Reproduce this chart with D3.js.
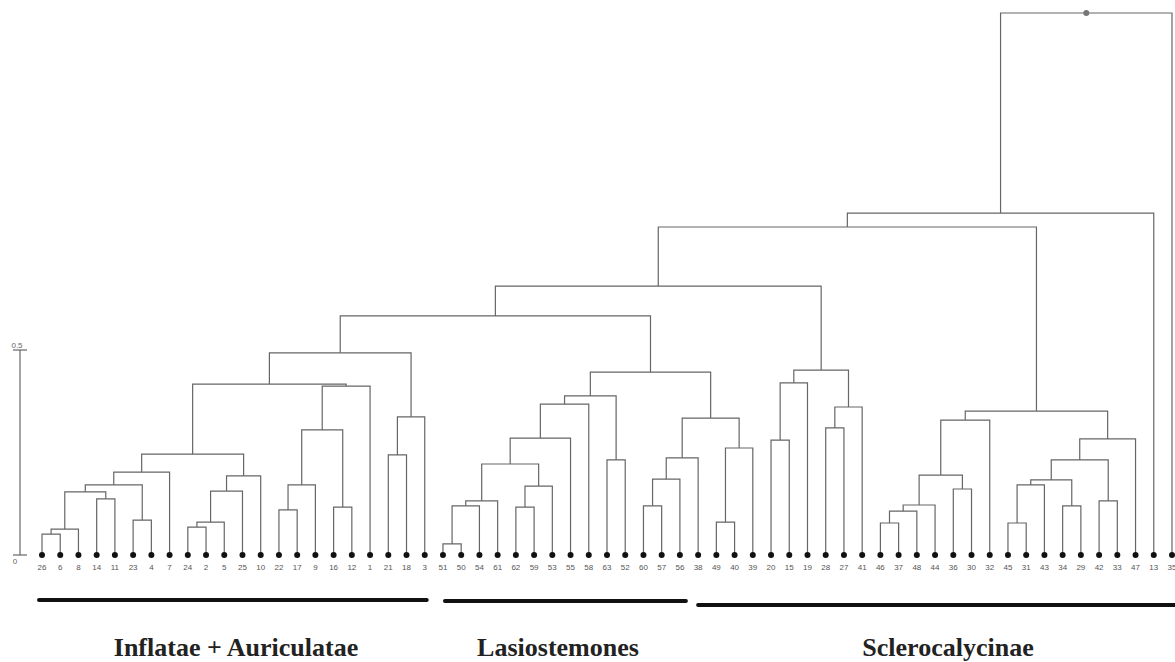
<!DOCTYPE html>
<html>
<head>
<meta charset="utf-8">
<script src="https://cdn.jsdelivr.net/npm/d3@7"></script>
<style>
  body { margin: 0; background: #fff; }
  svg { display: block; }
</style>
</head>
<body>
<div id="chart"></div>
<script>
// leaf order, left to right
const leaves = ["26","6","8","14","11","23","4","7","24","2","5","25","10","22","17","9","16","12","1","21","18","3",
  "51","50","54","61","62","59","53","55","58","63","52","60","57","56","38","49","40","39",
  "20","15","19","28","27","41","46","37","48","44","36","30","32","45","31","43","34","29","42","33","47","13","35"];

// merges: [left, right, height]; "#k" points to merge k
const merges = [
  ["26","6",0.051], ["#0","8",0.063], ["14","11",0.137], ["#1","#2",0.154], ["23","4",0.085],
  ["#3","#4",0.171], ["#5","7",0.202], ["24","2",0.068], ["#7","5",0.080], ["#8","25",0.156],
  ["#9","10",0.193], ["#6","#10",0.246], ["22","17",0.110], ["#12","9",0.171], ["16","12",0.117],
  ["#13","#14",0.305], ["#15","1",0.412], ["#11","#16",0.417], ["21","18",0.244], ["#18","3",0.337],
  ["#17","#19",0.493],
  ["51","50",0.027], ["#21","54",0.120], ["#22","61",0.132], ["62","59",0.117], ["#24","53",0.168],
  ["#23","#25",0.222], ["#26","55",0.285], ["#27","58",0.368], ["63","52",0.232], ["#28","#29",0.388],
  ["60","57",0.120], ["#31","56",0.185], ["#32","38",0.237], ["49","40",0.080], ["#34","39",0.261],
  ["#33","#35",0.334], ["#30","#36",0.446],
  ["#20","#37",0.583],
  ["20","15",0.280], ["#39","19",0.420], ["28","27",0.310], ["#41","41",0.361], ["#40","#42",0.451],
  ["#38","#43",0.656],
  ["46","37",0.078], ["#45","48",0.107], ["#46","44",0.122], ["36","30",0.161], ["#47","#48",0.195],
  ["#49","32",0.329], ["45","31",0.078], ["#51","43",0.171], ["34","29",0.120], ["#52","#53",0.183],
  ["42","33",0.132], ["#54","#55",0.232], ["#56","47",0.283], ["#50","#57",0.351],
  ["#44","#58",0.800], ["#59","13",0.834], ["#60","35",1.322]
];

// scale bar ticks
const scaleTicks = [0, 0.5];

// groups under the tree
const groupNames = ["Inflatae + Auriculatae", "Lasiostemones", "Sclerocalycinae"];
const groupFirst = ["26", "51", "38"];
const groupLast = ["3", "56", "35"];

const width = 1175, height = 662;

const svg = d3.select("#chart").append("svg")
  .attr("width", width)
  .attr("height", height);

const xScale = d3.scalePoint()
  .domain(leaves)
  .range([42, 1172]);

const yScale = d3.scaleLinear()
  .domain([0, 0.5])
  .range([555, 350]);

// build nested tree from merges
const built = merges.map(() => null);
function node(ref) {
  if (ref.startsWith("#")) return built[+ref.slice(1)];
  return { name: ref, height: 0 };
}
merges.forEach((m, i) => {
  built[i] = { name: "m" + i, height: m[2], children: [node(m[0]), node(m[1])] };
});
const root = d3.hierarchy(built[built.length - 1]);

// positions: leaves from the point scale, internal nodes in the middle of children
root.eachAfter(d => {
  if (!d.children) d.x = xScale(d.data.name);
  else d.x = (d.children[0].x + d.children[1].x) / 2;
  d.y = yScale(d.data.height);
});

// elbow branches
svg.append("g")
  .selectAll("path")
  .data(root.descendants().filter(d => d.children))
  .enter().append("path")
  .attr("fill", "none")
  .attr("stroke", "#666")
  .attr("stroke-width", 1.2)
  .attr("d", d => {
    const [a, b] = d.children;
    return `M${a.x},${a.y}V${d.y}H${b.x}V${b.y}`;
  });

// leaf dots
svg.append("g")
  .selectAll("circle")
  .data(root.leaves())
  .enter().append("circle")
  .attr("cx", d => d.x)
  .attr("cy", d => d.y)
  .attr("r", 3)
  .attr("fill", "#111");

// root dot
svg.append("circle")
  .attr("cx", root.x)
  .attr("cy", root.y)
  .attr("r", 3)
  .attr("fill", "#777");

// leaf labels
svg.append("g")
  .selectAll("text")
  .data(root.leaves())
  .enter().append("text")
  .attr("x", d => d.x)
  .attr("y", yScale(0) + 15)
  .attr("text-anchor", "middle")
  .attr("font-family", "Liberation Sans, Arial, sans-serif")
  .attr("font-size", 8)
  .attr("fill", "#555")
  .text(d => d.data.name);

// scale bar
const bar = svg.append("g");
bar.append("line")
  .attr("x1", 20).attr("x2", 20)
  .attr("y1", yScale(0)).attr("y2", yScale(0.5))
  .attr("stroke", "#666").attr("stroke-width", 1.2);
bar.selectAll(".tick")
  .data(scaleTicks)
  .enter().append("line")
  .attr("x1", 13).attr("x2", 27)
  .attr("y1", d => yScale(d)).attr("y2", d => yScale(d))
  .attr("stroke", "#666").attr("stroke-width", 1.2);
bar.selectAll("text")
  .data(scaleTicks)
  .enter().append("text")
  .attr("x", d => d === 0 ? 15 : 17)
  .attr("y", d => d === 0 ? yScale(d) + 9 : yScale(d) - 2)
  .attr("text-anchor", "middle")
  .attr("font-family", "Liberation Sans, Arial, sans-serif")
  .attr("font-size", 8)
  .attr("fill", "#666")
  .text(d => d);

// group bars and names
const barY = [600, 601, 605];
const barPad = [[-3, 2], [2, 6], [0, 10]];
const groups = svg.append("g");
groupNames.forEach((g, i) => {
  groups.append("line")
    .attr("x1", xScale(groupFirst[i]) + barPad[i][0])
    .attr("x2", xScale(groupLast[i]) + barPad[i][1])
    .attr("y1", barY[i]).attr("y2", barY[i])
    .attr("stroke", "#111")
    .attr("stroke-width", 4)
    .attr("stroke-linecap", "round");
});
const labelX = [236, 558, 948];
groups.selectAll(".glabel")
  .data(groupNames)
  .enter().append("text")
  .attr("class", "glabel")
  .attr("x", (d, i) => labelX[i])
  .attr("y", 656)
  .attr("text-anchor", "middle")
  .attr("font-family", "Liberation Serif, Times New Roman, serif")
  .attr("font-weight", "bold")
  .attr("font-size", 26)
  .attr("fill", "#222")
  .text(d => d);
</script>
</body>
</html>
